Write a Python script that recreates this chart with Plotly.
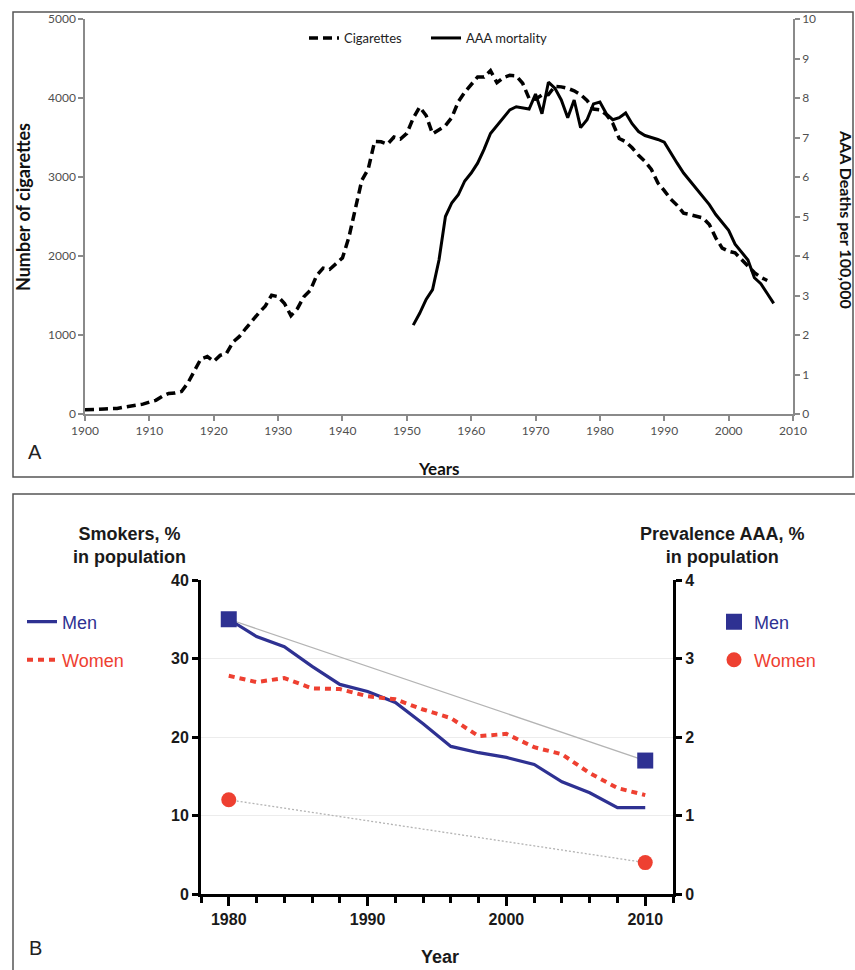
import plotly.graph_objects as go

W, H = 855, 970

# ---------------- Panel A data ----------------
cig_years = list(range(1900, 2007))
cig_values = [
    54, 53, 60, 64, 66, 70, 86, 99, 105, 125,            # 1900-1909
    151, 173, 223, 260, 267, 285, 395, 551, 697, 727,    # 1910-1919
    665, 742, 770, 911, 982, 1085, 1191, 1279, 1366, 1504,  # 1920-1929
    1485, 1399, 1245, 1334, 1483, 1564, 1754, 1847, 1830, 1900,  # 1930-1939
    1976, 2236, 2585, 2956, 3100, 3449, 3446, 3416, 3505, 3480,  # 1940-1949
    3552, 3744, 3886, 3778, 3546, 3597, 3650, 3755, 3953, 4073,  # 1950-1959
    4171, 4266, 4265, 4345, 4194, 4258, 4287, 4280, 4186, 3993,  # 1960-1969
    3985, 4037, 4043, 4148, 4141, 4122, 4091, 4043, 3970, 3861,  # 1970-1979
    3851, 3790, 3680, 3488, 3446, 3370, 3274, 3197, 3096, 2926,  # 1980-1989
    2828, 2720, 2641, 2543, 2524, 2505, 2482, 2400, 2230, 2100,  # 1990-1999
    2060, 2040, 1960, 1880, 1790, 1730, 1690,                    # 2000-2006
]
aaa_years = list(range(1951, 2008))
aaa_values = [
    2.25, 2.55, 2.9, 3.15, 3.9, 5.0, 5.35, 5.55, 5.9,           # 1951-1959
    6.1, 6.35, 6.7, 7.1, 7.3, 7.5, 7.7, 7.78, 7.75, 7.72,        # 1960-1969
    8.1, 7.6, 8.4, 8.25, 7.95, 7.5, 7.95, 7.25, 7.45, 7.85,      # 1970-1979
    7.9, 7.6, 7.45, 7.5, 7.62, 7.35, 7.15, 7.05, 7.0, 6.95,      # 1980-1989
    6.88, 6.6, 6.35, 6.1, 5.9, 5.7, 5.5, 5.3, 5.05, 4.85,        # 1990-1999
    4.65, 4.3, 4.1, 3.9, 3.45, 3.3, 3.05, 2.8,                   # 2000-2007
]

# ---------------- Panel B data ----------------
smoke_years = [1980, 1982, 1984, 1986, 1988, 1990, 1992, 1994,
               1996, 1998, 2000, 2002, 2004, 2006, 2008, 2010]
men_smokers = [35.0, 32.8, 31.5, 29.0, 26.7, 25.8, 24.4, 21.7,
               18.8, 18.0, 17.4, 16.5, 14.3, 12.9, 11.0, 11.0]
women_smokers = [27.8, 27.0, 27.5, 26.2, 26.1, 25.2, 24.8, 23.5,
                 22.4, 20.1, 20.4, 18.7, 17.8, 15.4, 13.5, 12.6]
prev_years = [1980, 2010]
men_prev = [3.5, 1.7]
women_prev = [1.2, 0.4]

BLUE = "#2e3192"
RED = "#ee4031"
FA = "Lato"
FB = "Liberation Sans"


def px(p):
    return p / W


def py(p):
    return 1 - p / H


fig = go.Figure()

# Panel A
fig.add_trace(go.Scatter(x=cig_years, y=cig_values, mode="lines", name="Cigarettes",
                         line=dict(color="black", width=3.5, dash="9px,5px"),
                         xaxis="x", yaxis="y", legend="legend"))
fig.add_trace(go.Scatter(x=aaa_years, y=aaa_values, mode="lines", name="AAA mortality",
                         line=dict(color="black", width=3),
                         xaxis="x", yaxis="y2", legend="legend"))

# Panel B connecting lines for prevalence
fig.add_trace(go.Scatter(x=prev_years, y=men_prev, mode="lines", showlegend=False,
                         line=dict(color="#b4b4b4", width=1.3),
                         xaxis="x2", yaxis="y4"))
fig.add_trace(go.Scatter(x=prev_years, y=women_prev, mode="lines", showlegend=False,
                         line=dict(color="#b4b4b4", width=1.3, dash="2px,2px"),
                         xaxis="x2", yaxis="y4"))
# Smokers
fig.add_trace(go.Scatter(x=smoke_years, y=men_smokers, mode="lines", name="Men",
                         line=dict(color=BLUE, width=3.2),
                         xaxis="x2", yaxis="y3", legend="legend2"))
fig.add_trace(go.Scatter(x=smoke_years, y=women_smokers, mode="lines", name="Women",
                         line=dict(color=RED, width=4, dash="6px,5px"),
                         xaxis="x2", yaxis="y3", legend="legend3"))
# Prevalence markers
fig.add_trace(go.Scatter(x=prev_years, y=men_prev, mode="markers", name="Men",
                         marker=dict(symbol="square", color=BLUE, size=16),
                         xaxis="x2", yaxis="y4", legend="legend4"))
fig.add_trace(go.Scatter(x=prev_years, y=women_prev, mode="markers", name="Women",
                         marker=dict(symbol="circle", color=RED, size=15),
                         xaxis="x2", yaxis="y4", legend="legend5"))

gA = "#8a8a8a"
tickA = dict(family=FA, size=12, color="#505050")
tickB = dict(family=FB, size=16, color="#1a1a1a", weight="bold")

fig.update_layout(
    width=W, height=H,
    margin=dict(l=0, r=0, t=0, b=0, pad=0, autoexpand=False),
    paper_bgcolor="white", plot_bgcolor="rgba(0,0,0,0)",
    xaxis=dict(domain=[px(85), px(793)], range=[1900, 2010], dtick=10, tick0=1900,
               anchor="y", showgrid=False, zeroline=False, showline=True,
               linecolor=gA, linewidth=1.5, ticks="outside", ticklen=5, tickcolor=gA,
               tickwidth=1.5, tickfont=tickA),
    yaxis=dict(domain=[py(414), py(19)], range=[0, 5000], dtick=1000, anchor="x",
               showgrid=False, zeroline=False, showline=True, linecolor=gA, linewidth=1.5,
               ticks="outside", ticklen=5, tickcolor=gA, tickwidth=1.5, tickfont=tickA),
    yaxis2=dict(range=[0, 10], dtick=1, overlaying="y", side="right", anchor="x",
                showgrid=False, zeroline=False, showline=True, linecolor=gA, linewidth=1.5,
                ticks="outside", ticklen=5, tickcolor=gA, tickwidth=1.5, tickfont=tickA),
    xaxis2=dict(domain=[px(201), px(673)], range=[1978, 2012], dtick=10, tick0=1980,
                anchor="y3", showgrid=False, zeroline=False, showline=True,
                linecolor="black", linewidth=3, ticks="outside", ticklen=9,
                tickcolor="black", tickwidth=3, tickfont=tickB,
                minor=dict(dtick=2, tick0=1980, ticks="outside", ticklen=6,
                           tickcolor="black", tickwidth=3, showgrid=False)),
    yaxis3=dict(domain=[py(894), py(580)], range=[0, 40], dtick=10, anchor="x2",
                showgrid=True, gridcolor="#ececec", gridwidth=1.2, zeroline=False,
                showline=True, linecolor="black", linewidth=3, ticks="outside",
                ticklen=6, tickcolor="black", tickwidth=3, tickfont=tickB),
    yaxis4=dict(range=[0, 4], dtick=1, overlaying="y3", side="right", anchor="x2",
                showgrid=False, zeroline=False, showline=True, linecolor="black",
                linewidth=3, ticks="outside", ticklen=6, tickcolor="black", tickwidth=3,
                tickfont=tickB),
    legend=dict(orientation="h", x=px(304), y=py(38), xanchor="left", yanchor="middle",
                bgcolor="rgba(0,0,0,0)", font=dict(family=FA, size=13, color="#222"),
                itemwidth=30, entrywidth=77, entrywidthmode="pixels"),
    legend2=dict(x=px(22), y=py(622), xanchor="left", yanchor="middle",
                 bgcolor="rgba(0,0,0,0)", font=dict(family=FB, size=18, color=BLUE),
                 itemwidth=30),
    legend3=dict(x=px(22), y=py(660), xanchor="left", yanchor="middle",
                 bgcolor="rgba(0,0,0,0)", font=dict(family=FB, size=18, color=RED),
                 itemwidth=30),
    legend4=dict(x=px(714), y=py(622), xanchor="left", yanchor="middle",
                 bgcolor="rgba(0,0,0,0)", font=dict(family=FB, size=18, color=BLUE),
                 itemwidth=30),
    legend5=dict(x=px(714), y=py(660), xanchor="left", yanchor="middle",
                 bgcolor="rgba(0,0,0,0)", font=dict(family=FB, size=18, color=RED),
                 itemwidth=30),
)

# Panel frames
fig.add_shape(type="rect", xref="paper", yref="paper", x0=px(13), x1=px(853),
              y0=py(477), y1=py(12), line=dict(color="#555", width=1.5))
fig.add_shape(type="rect", xref="paper", yref="paper", x0=px(13), x1=px(856),
              y0=py(975), y1=py(494), line=dict(color="#555", width=1.5))

ann = [
    dict(text="<b>Number of cigarettes</b>", x=px(23), y=py(207), textangle=-90,
         font=dict(family=FA, size=18, color="#111")),
    dict(text="<b>AAA Deaths per 100,000</b>", x=px(846), y=py(219), textangle=90,
         font=dict(family=FA, size=16, color="#111")),
    dict(text="<b>Years</b>", x=px(439), y=py(468),
         font=dict(family=FA, size=17, color="#111")),
    dict(text="A", x=px(35), y=py(452), font=dict(family=FB, size=20, color="#222")),
    dict(text="<b>Smokers, %<br>in population</b>", x=px(129), y=py(545),
         font=dict(family=FB, size=18, color="#1a1a1a")),
    dict(text="<b>Prevalence AAA, %<br>in population</b>", x=px(722), y=py(545),
         font=dict(family=FB, size=18, color="#1a1a1a")),
    dict(text="<b>Year</b>", x=px(440), y=py(957),
         font=dict(family=FB, size=18, color="#1a1a1a")),
    dict(text="B", x=px(35), y=py(948), font=dict(family=FB, size=20, color="#222")),
]
for a in ann:
    fig.add_annotation(xref="paper", yref="paper", showarrow=False,
                       xanchor="center", yanchor="middle", **a)

fig.write_html("out.html")
